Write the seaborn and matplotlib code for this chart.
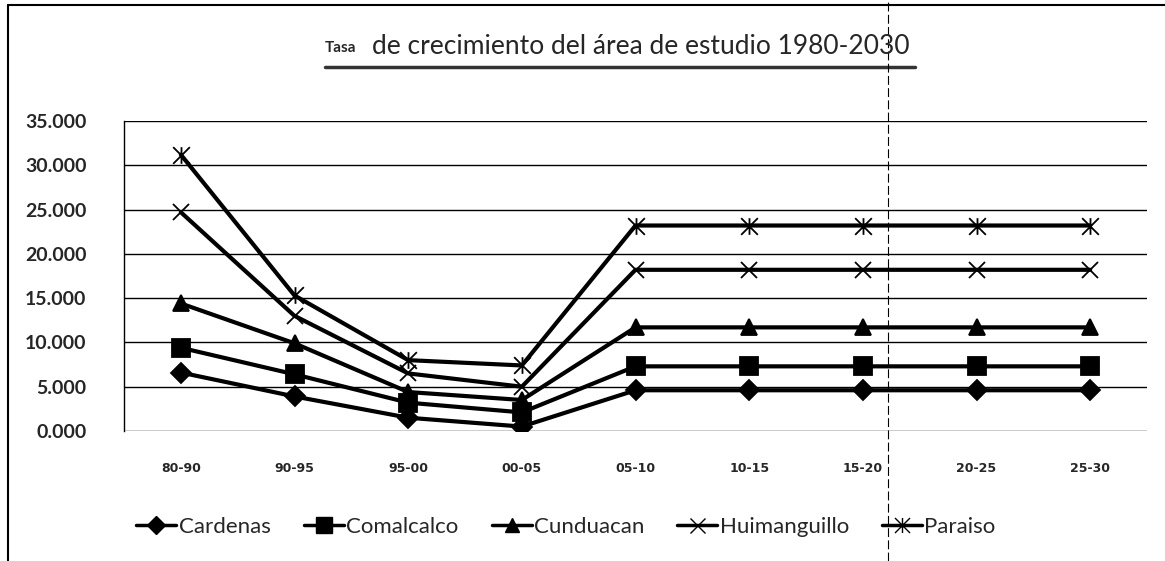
import matplotlib
matplotlib.use("Agg")
import matplotlib.pyplot as plt
from matplotlib.lines import Line2D
from matplotlib.path import Path
import seaborn as sns
import pandas as pd

periods = ["80-90", "90-95", "95-00", "00-05", "05-10", "10-15", "15-20", "20-25", "25-30"]
cardenas = [6.6, 3.9, 1.5, 0.5, 4.6, 4.6, 4.6, 4.6, 4.6]
comalcalco = [9.4, 6.4, 3.2, 2.1, 7.3, 7.3, 7.3, 7.3, 7.3]
cunduacan = [14.4, 9.9, 4.4, 3.5, 11.7, 11.7, 11.7, 11.7, 11.7]
huimanguillo = [24.7, 13.0, 6.5, 5.0, 18.2, 18.2, 18.2, 18.2, 18.2]
paraiso = [31.2, 15.3, 8.0, 7.4, 23.2, 23.2, 23.2, 23.2, 23.2]
series_names = ["Cardenas", "Comalcalco", "Cunduacan", "Huimanguillo", "Paraiso"]
yticks = [0, 5, 10, 15, 20, 25, 30, 35]

sns.set_theme(style="white")
plt.rcParams["font.family"] = ["Lato", "DejaVu Sans"]

series_vals = [cardenas, comalcalco, cunduacan, huimanguillo, paraiso]

fig = plt.figure(figsize=(11.65, 5.61), dpi=100)
ax = fig.add_axes([124 / 1165, 1 - 431 / 561, 1023 / 1165, 310 / 561])

# Excel-like star marker: an "x" with a vertical stroke
star_path = Path([(-1, -1), (1, 1), (-1, 1), (1, -1), (0, -1), (0, 1)],
                 [Path.MOVETO, Path.LINETO, Path.MOVETO, Path.LINETO, Path.MOVETO, Path.LINETO])

markers = {"Cardenas": "D", "Comalcalco": "s", "Cunduacan": "^",
           "Huimanguillo": "x", "Paraiso": star_path}
sizes_m = {"Cardenas": 10, "Comalcalco": 13, "Cunduacan": 11, "Huimanguillo": 12, "Paraiso": 12}

for n, vals in zip(series_names, series_vals):
    d = pd.DataFrame({"x": range(len(periods)), "value": vals})
    sns.lineplot(data=d, x="x", y="value", color="black", marker=markers[n],
                 markersize=sizes_m[n], markeredgecolor="black", markerfacecolor="black",
                 markeredgewidth=1.3, linewidth=3.0, sort=False, ax=ax)

ax.set_xlim(-0.5, len(periods) - 0.5)
ax.set_ylim(0, 35)
ax.set_yticks(yticks)
ax.set_yticklabels([f"{v:.3f}" for v in yticks], fontsize=14, fontweight="bold")
ax.set_xticks(range(len(periods)))
ax.set_xticklabels(periods, fontsize=9, fontweight="bold",
                   family=["Liberation Sans Narrow", "DejaVu Sans"])
ax.tick_params(axis="x", pad=22, length=0)
ax.tick_params(axis="y", pad=27, length=0)
ax.set_xlabel("")
ax.set_ylabel("")
ax.yaxis.grid(True, color="black", linewidth=1.0)
ax.xaxis.grid(False)
for s in ["top", "right", "bottom"]:
    ax.spines[s].set_visible(False)
ax.spines["left"].set_color("black")
ax.spines["left"].set_linewidth(1.0)

# legend
handles = [Line2D([0], [0], color="black", linewidth=2.5, marker=markers[n],
                  markersize=sizes_m[n] * 0.9, markeredgecolor="black", markerfacecolor="black")
           for n in series_names]
fig.legend(handles, series_names, loc="center", bbox_to_anchor=(566 / 1165, 1 - 527 / 561),
           ncol=5, frameon=False, fontsize=16, handlelength=1.8, columnspacing=1.5,
           handletextpad=0.1)

# title
fig.text(325 / 1165, 1 - 48 / 561, "Tasa", fontsize=11, fontweight="bold", va="center", ha="left")
fig.text(372 / 1165, 1 - 47 / 561, "de crecimiento del área de estudio 1980-2030",
         fontsize=19, va="center", ha="left")
fig.add_artist(Line2D([325 / 1165, 915 / 1165], [1 - 67 / 561, 1 - 67 / 561],
                      color="#333333", linewidth=2.5, transform=fig.transFigure))

# outer frame (left and top border) and fold line
fig.add_artist(Line2D([8 / 1165, 8 / 1165], [0, 1 - 5 / 561], color="black",
                      linewidth=1.5, transform=fig.transFigure))
fig.add_artist(Line2D([8 / 1165, 1], [1 - 5 / 561, 1 - 5 / 561], color="black",
                      linewidth=1.5, transform=fig.transFigure))
fig.add_artist(Line2D([888 / 1165, 888 / 1165], [0, 1], color="black", linewidth=0.8,
                      linestyle=(0, (8, 3)), transform=fig.transFigure))

fig.savefig("out.png", dpi=100, facecolor="white")
